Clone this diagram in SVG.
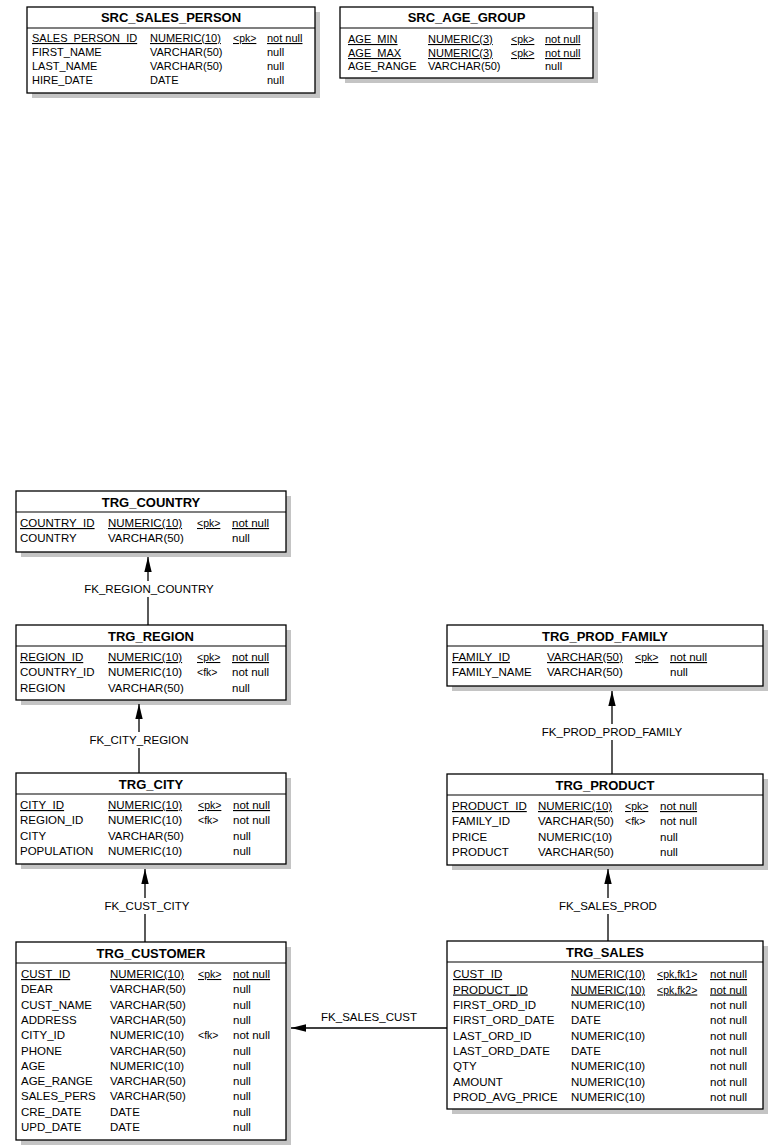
<svg xmlns="http://www.w3.org/2000/svg" width="774" height="1145" viewBox="0 0 774 1145">
<defs>
<style>
.bg{fill:#ffffff}
.sh{fill:#c4c4c4}
.box{fill:#ffffff;stroke:#000000;stroke-width:1.3}
.sep{stroke:#000000;stroke-width:1.2}
.t{font-family:"Liberation Sans",Arial,sans-serif;font-weight:bold;font-size:13px;fill:#000;text-anchor:middle}
.r{font-family:"Liberation Sans",Arial,sans-serif;font-size:11.5px;fill:#000}
.rs{font-family:"Liberation Sans",Arial,sans-serif;font-size:11px;fill:#000}
.k{font-family:"Liberation Sans",Arial,sans-serif;font-size:10.5px;fill:#000}
.u{text-decoration:underline}
.lbl{font-family:"Liberation Sans",Arial,sans-serif;font-size:11.5px;fill:#000;text-anchor:middle}
.c{stroke:#000000;stroke-width:1.3;fill:none}
</style>
<marker id="arr" markerUnits="userSpaceOnUse" markerWidth="16" markerHeight="9" refX="15" refY="4.5" orient="auto">
<path d="M0,0.8 L15,4.5 L0,8.2 z" fill="#000"/>
</marker>
</defs>
<rect class="bg" x="0" y="0" width="774" height="1145"/>

<g id="SRC_SALES_PERSON">
<rect class="sh" x="32" y="12" width="288" height="86"/>
<rect class="box" x="27" y="7" width="288" height="86"/>
<line class="sep" x1="27" y1="28" x2="315" y2="28"/>
<text class="t" x="171" y="22">SRC_SALES_PERSON</text>
<text class="rs u" x="32" y="42">SALES_PERSON_ID</text><text class="rs u" x="150" y="42">NUMERIC(10)</text><text class="k u" x="233" y="42">&lt;pk&gt;</text><text class="rs u" x="267" y="42">not null</text>
<text class="rs" x="32" y="56">FIRST_NAME</text><text class="rs" x="150" y="56">VARCHAR(50)</text><text class="rs" x="267" y="56">null</text>
<text class="rs" x="32" y="70">LAST_NAME</text><text class="rs" x="150" y="70">VARCHAR(50)</text><text class="rs" x="267" y="70">null</text>
<text class="rs" x="32" y="84">HIRE_DATE</text><text class="rs" x="150" y="84">DATE</text><text class="rs" x="267" y="84">null</text>
</g>

<g id="SRC_AGE_GROUP">
<rect class="sh" x="345" y="12" width="253" height="71"/>
<rect class="box" x="340" y="7" width="253" height="71"/>
<line class="sep" x1="340" y1="28" x2="593" y2="28"/>
<text class="t" x="466.5" y="22">SRC_AGE_GROUP</text>
<text class="rs u" x="348" y="43">AGE_MIN</text><text class="rs u" x="428" y="43">NUMERIC(3)</text><text class="k u" x="511" y="43">&lt;pk&gt;</text><text class="rs u" x="545" y="43">not null</text>
<text class="rs u" x="348" y="57">AGE_MAX</text><text class="rs u" x="428" y="57">NUMERIC(3)</text><text class="k u" x="511" y="57">&lt;pk&gt;</text><text class="rs u" x="545" y="57">not null</text>
<text class="rs" x="348" y="70">AGE_RANGE</text><text class="rs" x="428" y="70">VARCHAR(50)</text><text class="rs" x="545" y="70">null</text>
</g>

<g id="TRG_COUNTRY">
<rect class="sh" x="21" y="496" width="270" height="61"/>
<rect class="box" x="16" y="491" width="270" height="61"/>
<line class="sep" x1="16" y1="512" x2="286" y2="512"/>
<text class="t" x="151" y="507">TRG_COUNTRY</text>
<text class="r u" x="20" y="527">COUNTRY_ID</text><text class="r u" x="108" y="527">NUMERIC(10)</text><text class="k u" x="197" y="527">&lt;pk&gt;</text><text class="r u" x="232" y="527">not null</text>
<text class="r" x="20" y="542">COUNTRY</text><text class="r" x="108" y="542">VARCHAR(50)</text><text class="r" x="232" y="542">null</text>
</g>

<g id="TRG_REGION">
<rect class="sh" x="21" y="630" width="270" height="75"/>
<rect class="box" x="16" y="625" width="270" height="75"/>
<line class="sep" x1="16" y1="646" x2="286" y2="646"/>
<text class="t" x="151" y="641">TRG_REGION</text>
<text class="r u" x="20" y="661">REGION_ID</text><text class="r u" x="108" y="661">NUMERIC(10)</text><text class="k u" x="197" y="661">&lt;pk&gt;</text><text class="r u" x="232" y="661">not null</text>
<text class="r" x="20" y="676">COUNTRY_ID</text><text class="r" x="108" y="676">NUMERIC(10)</text><text class="k" x="197" y="676">&lt;fk&gt;</text><text class="r" x="232" y="676">not null</text>
<text class="r" x="20" y="692">REGION</text><text class="r" x="108" y="692">VARCHAR(50)</text><text class="r" x="232" y="692">null</text>
</g>

<g id="TRG_CITY">
<rect class="sh" x="21" y="778" width="270" height="91"/>
<rect class="box" x="16" y="773" width="270" height="91"/>
<line class="sep" x1="16" y1="794" x2="286" y2="794"/>
<text class="t" x="151" y="789">TRG_CITY</text>
<text class="r u" x="20" y="809">CITY_ID</text><text class="r u" x="108" y="809">NUMERIC(10)</text><text class="k u" x="198" y="809">&lt;pk&gt;</text><text class="r u" x="233" y="809">not null</text>
<text class="r" x="20" y="824">REGION_ID</text><text class="r" x="108" y="824">NUMERIC(10)</text><text class="k" x="198" y="824">&lt;fk&gt;</text><text class="r" x="233" y="824">not null</text>
<text class="r" x="20" y="840">CITY</text><text class="r" x="108" y="840">VARCHAR(50)</text><text class="r" x="233" y="840">null</text>
<text class="r" x="20" y="855">POPULATION</text><text class="r" x="108" y="855">NUMERIC(10)</text><text class="r" x="233" y="855">null</text>
</g>

<g id="TRG_CUSTOMER">
<rect class="sh" x="21" y="947" width="270" height="198"/>
<rect class="box" x="16" y="942" width="270" height="198"/>
<line class="sep" x1="16" y1="963" x2="286" y2="963"/>
<text class="t" x="151" y="958">TRG_CUSTOMER</text>
<text class="r u" x="21" y="978">CUST_ID</text><text class="r u" x="110" y="978">NUMERIC(10)</text><text class="k u" x="198" y="978">&lt;pk&gt;</text><text class="r u" x="233" y="978">not null</text>
<text class="r" x="21" y="993">DEAR</text><text class="r" x="110" y="993">VARCHAR(50)</text><text class="r" x="233" y="993">null</text>
<text class="r" x="21" y="1008.5">CUST_NAME</text><text class="r" x="110" y="1008.5">VARCHAR(50)</text><text class="r" x="233" y="1008.5">null</text>
<text class="r" x="21" y="1024">ADDRESS</text><text class="r" x="110" y="1024">VARCHAR(50)</text><text class="r" x="233" y="1024">null</text>
<text class="r" x="21" y="1039">CITY_ID</text><text class="r" x="110" y="1039">NUMERIC(10)</text><text class="k" x="198" y="1039">&lt;fk&gt;</text><text class="r" x="233" y="1039">not null</text>
<text class="r" x="21" y="1054.5">PHONE</text><text class="r" x="110" y="1054.5">VARCHAR(50)</text><text class="r" x="233" y="1054.5">null</text>
<text class="r" x="21" y="1070">AGE</text><text class="r" x="110" y="1070">NUMERIC(10)</text><text class="r" x="233" y="1070">null</text>
<text class="r" x="21" y="1085">AGE_RANGE</text><text class="r" x="110" y="1085">VARCHAR(50)</text><text class="r" x="233" y="1085">null</text>
<text class="r" x="21" y="1100">SALES_PERS</text><text class="r" x="110" y="1100">VARCHAR(50)</text><text class="r" x="233" y="1100">null</text>
<text class="r" x="21" y="1115.5">CRE_DATE</text><text class="r" x="110" y="1115.5">DATE</text><text class="r" x="233" y="1115.5">null</text>
<text class="r" x="21" y="1131">UPD_DATE</text><text class="r" x="110" y="1131">DATE</text><text class="r" x="233" y="1131">null</text>
</g>

<g id="TRG_PROD_FAMILY">
<rect class="sh" x="452" y="630" width="316" height="61"/>
<rect class="box" x="447" y="625" width="316" height="61"/>
<line class="sep" x1="447" y1="646" x2="763" y2="646"/>
<text class="t" x="605" y="641">TRG_PROD_FAMILY</text>
<text class="r u" x="452" y="661">FAMILY_ID</text><text class="r u" x="547" y="661">VARCHAR(50)</text><text class="k u" x="635" y="661">&lt;pk&gt;</text><text class="r u" x="670" y="661">not null</text>
<text class="r" x="452" y="676">FAMILY_NAME</text><text class="r" x="547" y="676">VARCHAR(50)</text><text class="r" x="670" y="676">null</text>
</g>

<g id="TRG_PRODUCT">
<rect class="sh" x="452" y="779" width="316" height="91"/>
<rect class="box" x="447" y="774" width="316" height="91"/>
<line class="sep" x1="447" y1="795" x2="763" y2="795"/>
<text class="t" x="605" y="790">TRG_PRODUCT</text>
<text class="r u" x="452" y="810">PRODUCT_ID</text><text class="r u" x="538" y="810">NUMERIC(10)</text><text class="k u" x="625" y="810">&lt;pk&gt;</text><text class="r u" x="660" y="810">not null</text>
<text class="r" x="452" y="825">FAMILY_ID</text><text class="r" x="538" y="825">VARCHAR(50)</text><text class="k" x="625" y="825">&lt;fk&gt;</text><text class="r" x="660" y="825">not null</text>
<text class="r" x="452" y="841">PRICE</text><text class="r" x="538" y="841">NUMERIC(10)</text><text class="r" x="660" y="841">null</text>
<text class="r" x="452" y="856">PRODUCT</text><text class="r" x="538" y="856">VARCHAR(50)</text><text class="r" x="660" y="856">null</text>
</g>

<g id="TRG_SALES">
<rect class="sh" x="452" y="946" width="316" height="168"/>
<rect class="box" x="447" y="941" width="316" height="168"/>
<line class="sep" x1="447" y1="962" x2="763" y2="962"/>
<text class="t" x="605" y="957">TRG_SALES</text>
<text class="r u" x="453" y="978">CUST_ID</text><text class="r u" x="571" y="978">NUMERIC(10)</text><text class="k u" x="657" y="978">&lt;pk,fk1&gt;</text><text class="r u" x="710" y="978">not null</text>
<text class="r u" x="453" y="993.5">PRODUCT_ID</text><text class="r u" x="571" y="993.5">NUMERIC(10)</text><text class="k u" x="657" y="993.5">&lt;pk,fk2&gt;</text><text class="r u" x="710" y="993.5">not null</text>
<text class="r" x="453" y="1009">FIRST_ORD_ID</text><text class="r" x="571" y="1009">NUMERIC(10)</text><text class="r" x="710" y="1009">not null</text>
<text class="r" x="453" y="1024">FIRST_ORD_DATE</text><text class="r" x="571" y="1024">DATE</text><text class="r" x="710" y="1024">not null</text>
<text class="r" x="453" y="1039.5">LAST_ORD_ID</text><text class="r" x="571" y="1039.5">NUMERIC(10)</text><text class="r" x="710" y="1039.5">not null</text>
<text class="r" x="453" y="1055">LAST_ORD_DATE</text><text class="r" x="571" y="1055">DATE</text><text class="r" x="710" y="1055">not null</text>
<text class="r" x="453" y="1070">QTY</text><text class="r" x="571" y="1070">NUMERIC(10)</text><text class="r" x="710" y="1070">not null</text>
<text class="r" x="453" y="1085.5">AMOUNT</text><text class="r" x="571" y="1085.5">NUMERIC(10)</text><text class="r" x="710" y="1085.5">not null</text>
<text class="r" x="453" y="1101">PROD_AVG_PRICE</text><text class="r" x="571" y="1101">NUMERIC(10)</text><text class="r" x="710" y="1101">not null</text>
</g>

<g id="connectors">
<line class="c" x1="148" y1="625" x2="148" y2="597"/>
<line class="c" x1="148" y1="581" x2="148" y2="557" marker-end="url(#arr)"/>
<text class="lbl" x="149" y="593">FK_REGION_COUNTRY</text>

<line class="c" x1="139" y1="773" x2="139" y2="748"/>
<line class="c" x1="139" y1="732" x2="139" y2="704" marker-end="url(#arr)"/>
<text class="lbl" x="139" y="744">FK_CITY_REGION</text>

<line class="c" x1="145" y1="942" x2="145" y2="914"/>
<line class="c" x1="145" y1="898" x2="145" y2="869" marker-end="url(#arr)"/>
<text class="lbl" x="147" y="910">FK_CUST_CITY</text>

<line class="c" x1="612" y1="774" x2="612" y2="740"/>
<line class="c" x1="612" y1="724" x2="612" y2="691" marker-end="url(#arr)"/>
<text class="lbl" x="612" y="736">FK_PROD_PROD_FAMILY</text>

<line class="c" x1="608" y1="941" x2="608" y2="914"/>
<line class="c" x1="608" y1="898" x2="608" y2="869" marker-end="url(#arr)"/>
<text class="lbl" x="608" y="910">FK_SALES_PROD</text>

<line class="c" x1="447" y1="1028" x2="291" y2="1028" marker-end="url(#arr)"/>
<text class="lbl" x="369" y="1021">FK_SALES_CUST</text>
</g>
</svg>
